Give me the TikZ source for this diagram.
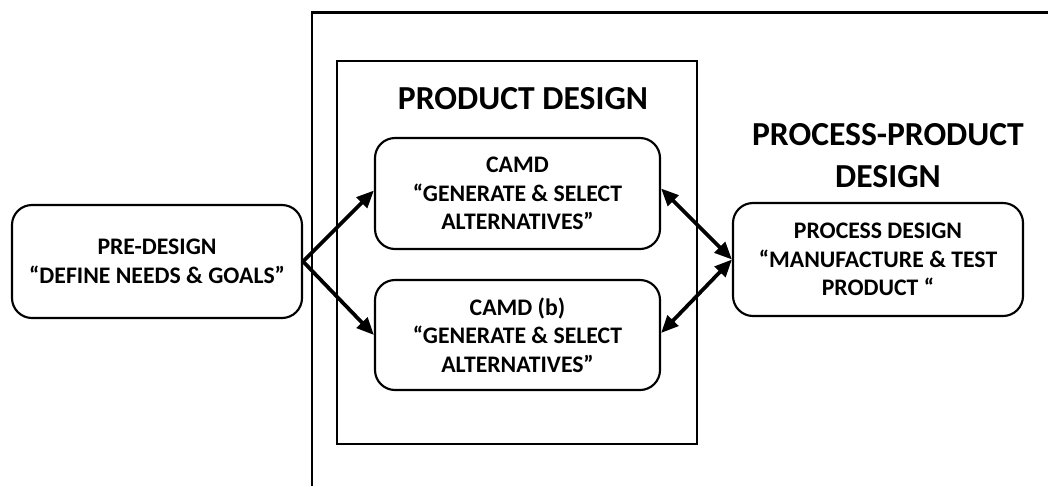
\documentclass[tikz,border=0pt]{standalone}
\usepackage{fontspec}
\setmainfont{Carlito}
\usetikzlibrary{arrows.meta}
\tikzset{
  box/.style={draw, line width=1.6pt, rounded corners=15pt, align=center,
    font=\fontsize{17.8}{21.5}\selectfont\bfseries, inner sep=0pt},
  title/.style={align=center, font=\fontsize{25.2}{31.5}\selectfont\bfseries, inner sep=0pt},
  frame/.style={line width=2pt},
  onearrow/.style={line width=2.8pt, -{Triangle[length=13pt,width=11pt]}},
  twoarrow/.style={line width=2.8pt, {Triangle[length=13pt,width=11pt]}-{Triangle[length=13pt,width=11pt]}}
}
\begin{document}
\begin{tikzpicture}[x=0.75pt,y=-0.75pt]
\useasboundingbox (0,0) rectangle (1048,486);
% outer frame (open to the right and bottom)
\coordinate (otl) at (312,12.5);
\coordinate (otr) at (1048,12.5);
\coordinate (obl) at (312,486);
\draw[frame] (otr) -- (otl) -- (obl);
% inner box
\draw[frame] (337,61) rectangle (697,444);
% titles
\node[title] (tprod) at (523,99) {PRODUCT DESIGN};
\node[title] (tproc) at (888,156) {PROCESS-PRODUCT\\DESIGN};
% boxes
\node[box, minimum width=217.5pt, minimum height=84.75pt] (pre) at (157,261.5)
  {PRE-DESIGN\\“DEFINE NEEDS \& GOALS”};
\node[box, minimum width=213.75pt, minimum height=83.25pt] (camd) at (517.5,193.5)
  {CAMD\\“GENERATE \& SELECT\\ALTERNATIVES”};
\node[box, minimum width=213.75pt, minimum height=82.5pt] (camdb) at (517.5,335)
  {CAMD (b)\\“GENERATE \& SELECT\\ALTERNATIVES”};
\node[box, minimum width=217.5pt, minimum height=84.75pt] (proc) at (878,259.5)
  {PROCESS DESIGN\\“MANUFACTURE \& TEST\\PRODUCT “};
% connectors
\draw[onearrow] (pre.east) -- ([yshift=2.25pt]camd.west);
\draw[onearrow] (pre.east) -- (camdb.west);
\draw[twoarrow] ([yshift=3.75pt]camd.east) -- (proc.west);
\draw[twoarrow] (proc.west) -- ([yshift=1.5pt]camdb.east);
\end{tikzpicture}
\end{document}
